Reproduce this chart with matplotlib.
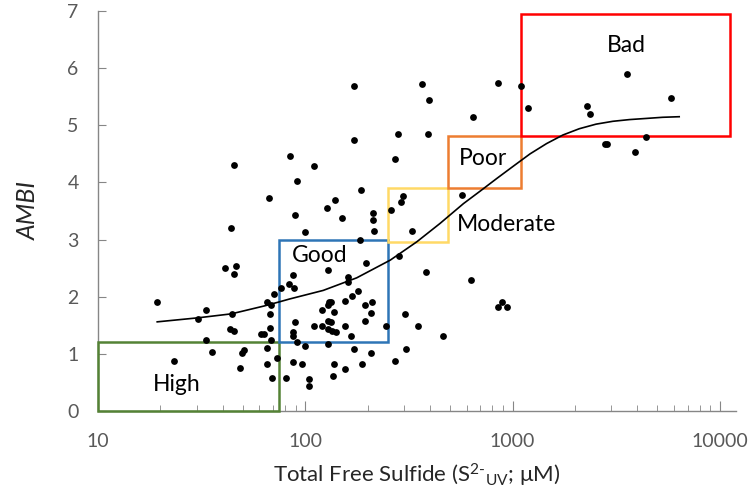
import numpy as np
import matplotlib
matplotlib.use('Agg')
import matplotlib.pyplot as plt
from matplotlib.patches import Rectangle
from matplotlib.ticker import LogLocator, NullFormatter, FixedLocator, FixedFormatter

plt.rcParams['font.family'] = ['Lato', 'DejaVu Sans']
plt.rcParams['mathtext.fontset'] = 'custom'
plt.rcParams['mathtext.rm'] = 'Lato'
plt.rcParams['mathtext.it'] = 'Lato:italic'

# scatter data: total free sulfide (uM) and AMBI
sulfide = [19.3, 23.3, 30.3, 33.3, 33.3, 35.3, 40.8, 43.6, 44.3, 43.2,
           45.3, 45.3, 46.1, 45.3, 49.5, 50.6, 48.3, 61.4, 63.0, 65.6,
           68.6, 70.6, 67.8, 67.8, 68.0, 65.6, 73.3, 65.6, 69.3, 66.5,
           80.9, 87.3, 88.9, 87.3, 87.3, 83.2, 87.3, 76.6, 84.1, 90.8,
           89.1, 87.8, 91.6, 96.4, 103.8, 103.8, 99.7, 99.7, 110.4, 126.8,
           138.7, 150.8, 171.9, 171.4, 185.8, 212.8, 212.8, 215.3, 184.0, 196.9,
           128.3, 160.6, 160.6, 180.3, 167.4, 155.9, 130.6, 133.1, 129.1, 194.2,
           209.9, 206.9, 120.5, 137.4, 128.3, 133.1, 194.6, 110.2, 120.5, 155.9,
           129.1, 134.0, 140.3, 166.6, 128.3, 244.5, 171.4, 206.9, 138.0, 155.3,
           136.4, 187.8, 271.6, 301.3, 307.2, 349.9, 460.1, 283.1, 260.4, 289.6,
           295.1, 328.1, 271.6, 281.2, 363.9, 396.5, 392.1, 645.3, 570.3, 383.7,
           633.3, 854.4, 1095, 1183, 853, 885.5, 942, 2292, 2353, 3549,
           5807, 4397, 2793, 2871, 3908]
ambi = [1.90, 0.88, 1.61, 1.76, 1.25, 1.03, 2.50, 3.21, 1.69, 1.44,
        1.40, 4.31, 2.54, 2.40, 1.02, 1.06, 0.76, 1.35, 1.35, 1.90,
        1.86, 2.05, 1.70, 1.46, 1.25, 1.11, 0.92, 0.83, 0.57, 3.72,
        0.58, 0.85, 1.56, 1.39, 1.32, 2.22, 2.38, 2.16, 4.46, 4.03,
        3.43, 2.15, 1.21, 0.83, 0.56, 0.43, 1.13, 3.14, 4.28, 3.56,
        3.69, 3.37, 5.69, 4.75, 3.87, 3.47, 3.34, 3.15, 2.99, 2.59,
        2.46, 2.34, 2.26, 2.10, 2.01, 1.93, 1.90, 1.91, 1.86, 1.85,
        1.91, 1.72, 1.76, 1.73, 1.58, 1.56, 1.58, 1.49, 1.49, 1.49,
        1.43, 1.40, 1.38, 1.32, 1.18, 1.49, 1.08, 1.02, 0.83, 0.74,
        0.62, 0.83, 0.88, 1.70, 1.08, 1.49, 1.32, 2.71, 3.52, 3.65,
        3.77, 3.15, 4.41, 4.84, 5.73, 5.45, 4.85, 5.14, 3.78, 2.43,
        2.30, 5.74, 5.68, 5.31, 1.82, 1.91, 1.82, 5.33, 5.19, 5.89,
        5.47, 4.79, 4.68, 4.68, 4.54]

# fitted curve
fit_x = [19.3, 30.3, 44, 63.7, 75, 84, 122, 177, 257, 345, 446, 580, 705,
         840, 1005, 1215, 1460, 1750, 2100, 2530, 3050, 3670, 4420, 5300, 6370]
fit_y = [1.56, 1.63, 1.70, 1.84, 1.91, 1.96, 2.11, 2.33, 2.64, 2.96, 3.28, 3.63, 3.86,
         4.07, 4.28, 4.50, 4.68, 4.83, 4.94, 5.02, 5.07, 5.10, 5.12, 5.14, 5.15]

# quality class boxes
box_names = ['High', 'Good', 'Moderate', 'Poor', 'Bad']
box_x0 = [10, 75, 250, 490, 1100]
box_x1 = [75, 250, 490, 1100, 11200]
box_y0 = [0, 1.2, 2.96, 3.9, 4.81]
box_y1 = [1.2, 3.0, 3.91, 4.81, 6.94]
box_colors = ['#548235', '#2E75B6', '#FFD966', '#ED7D31', '#FF0000']

# label anchors
label_x = [24, 118, 540, 550, 3548]
label_y = [0.35, 2.6, 3.15, 4.31, 6.28]
label_ha = ['center', 'center', 'left', 'left', 'center']

fig = plt.figure(figsize=(7.5, 4.96), dpi=100)
ax = fig.add_axes([0.1307, 0.1714, 0.8506, 0.8064])

ax.scatter(sulfide, ambi, s=24, c='black', zorder=4, linewidths=0)
ax.plot(fit_x, fit_y, color='black', lw=1.2, zorder=4)

for i in range(len(box_names)):
    rect = Rectangle((box_x0[i], box_y0[i]), box_x1[i] - box_x0[i], box_y1[i] - box_y0[i],
                     fill=False, edgecolor=box_colors[i], lw=1.8, zorder=3, clip_on=False)
    ax.add_patch(rect)
    ax.text(label_x[i], label_y[i], box_names[i], ha=label_ha[i], va='baseline',
            fontsize=16.5, color='black', zorder=5)

ax.set_xscale('log')
ax.set_xlim(10, 11970)
ax.set_ylim(0, 7)
ax.xaxis.set_major_locator(FixedLocator([10, 100, 1000, 10000]))
ax.xaxis.set_major_formatter(FixedFormatter(['10', '100', '1000', '10000']))
ax.xaxis.set_minor_locator(LogLocator(base=10, subs=np.arange(2, 10)))
ax.xaxis.set_minor_formatter(NullFormatter())
ax.set_yticks(range(0, 8))

for side in ['top', 'right']:
    ax.spines[side].set_visible(False)
for side in ['left', 'bottom']:
    ax.spines[side].set_color('#868686')
    ax.spines[side].set_linewidth(1.0)

ax.tick_params(axis='both', which='both', direction='in', colors='#868686',
               labelcolor='#595959', labelsize=14)
ax.tick_params(axis='x', which='major', length=7, pad=16)
ax.tick_params(axis='x', which='minor', length=4)
ax.tick_params(axis='y', which='major', length=6, pad=14)

ax.set_xlabel(r'Total Free Sulfide (S$^{\text{2-}}{}_{\text{UV}}$; μM)', fontsize=16,
              color='#262626', labelpad=8)
ax.set_ylabel('AMBI', fontsize=18, style='italic', color='#262626', labelpad=20)

fig.savefig('out.png', dpi=100)
